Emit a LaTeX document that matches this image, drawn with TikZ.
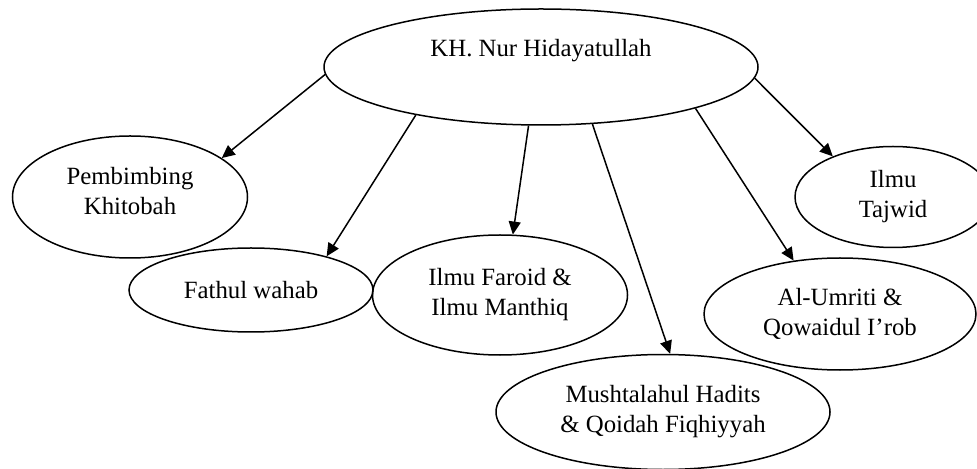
\documentclass[tikz,border=0pt]{standalone}
\usepackage{fontspec}
\setmainfont{Liberation Serif}
\usetikzlibrary{shapes.geometric,arrows.meta}
\tikzset{topic/.style = {ellipse, draw=black, line width=0.75pt, inner sep=0pt, align=center,
            font=\fontsize{12.4}{15}\selectfont},
    link/.style = {-{Triangle[length=6.5pt,width=6pt]}, line width=0.75pt}
}

\begin{document}
\begin{tikzpicture}[x=0.5pt,y=-0.5pt]
  \useasboundingbox (0,0) rectangle (977,469);
  % teacher
  \node[topic, minimum width=217pt, minimum height=58pt, text height=9pt, text depth=19.8pt] (kh) at (541,67) {KH. Nur Hidayatullah};
  % subjects
  \node[topic, minimum width=117.5pt, minimum height=61pt] (pk) at (130,197) {Pembimbing\\Khitobah\\[-9pt]\mbox{}};
  \node[topic, minimum width=122pt, minimum height=42pt] (fw) at (251,290) {Fathul wahab};
  \node[topic, minimum width=127.5pt, minimum height=60pt] (fm) at (500,295) {Ilmu Faroid \&\\Ilmu Manthiq};
  \node[topic, minimum width=167pt, minimum height=57.5pt] (mh) at (663,412) {Mushtalahul Hadits\\\& Qoidah Fiqhiyyah};
  \node[topic, minimum width=136pt, minimum height=56pt] (aq) at (840,314) {Al-Umriti \&\\Qowaidul I’rob};
  \node[topic, minimum width=98pt, minimum height=50.5pt] (tj) at (893,197) {Ilmu\\Tajwid};

  \draw[link] (kh.182) -- (pk.23.5);
  \draw[link] (kh.201.3) -- (fw.24);
  \draw[link] (kh.258) -- (fm.78);
  \draw[link] (kh.312) -- (mh.83);
  \draw[link] (kh.345.6) -- (aq.131);
  \draw[link] (kh.357) -- (tj.146.3);
\end{tikzpicture}
\end{document}
